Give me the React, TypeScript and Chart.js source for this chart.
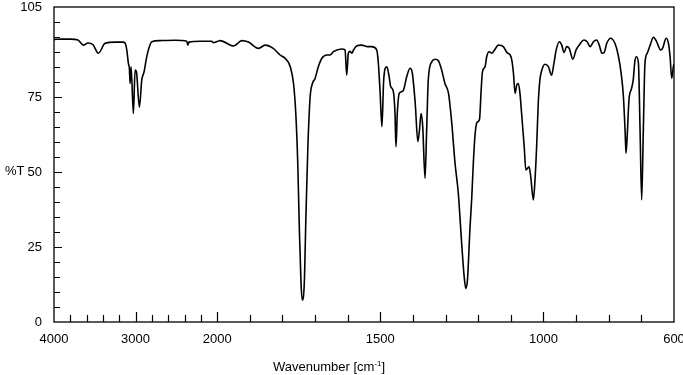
import React, { useEffect, useRef } from 'react';
import { Chart, registerables, LinearScale } from 'chart.js';

// ---- data ----
const wavenumbers = [
  4000, 3900, 3800, 3706, 3640, 3583, 3521, 3456, 3374, 3252,
  3153, 3129, 3108, 3088, 3076, 3067, 3055, 3027, 3006, 2990,
  2953, 2924, 2896, 2871, 2843, 2801, 2699, 2515, 2372, 2360,
  2344, 2209, 2065, 2049, 2000, 1991, 1950, 1924, 1904, 1873,
  1853, 1828, 1807, 1792, 1776, 1766, 1759, 1753, 1748, 1743,
  1739, 1733, 1728, 1722, 1715, 1708, 1700, 1690, 1679, 1664,
  1654, 1644, 1618, 1608, 1603, 1598, 1593, 1587, 1582, 1572,
  1557, 1541, 1526, 1511, 1506, 1501, 1495, 1490, 1485, 1480,
  1473, 1468, 1460, 1455, 1452, 1448, 1442, 1434, 1429, 1419,
  1409, 1402, 1393, 1385, 1380, 1375, 1370, 1363, 1358, 1353,
  1342, 1332, 1322, 1312, 1302, 1291, 1281, 1271, 1261, 1250,
  1243, 1238, 1233, 1225, 1220, 1215, 1210, 1204, 1196, 1191,
  1187, 1179, 1174, 1167, 1158, 1150, 1138, 1123, 1112, 1102,
  1097, 1092, 1087, 1082, 1077, 1072, 1067, 1059, 1054, 1049,
  1044, 1039, 1031, 1026, 1021, 1016, 1011, 1005, 995, 985,
  975, 968, 961, 951, 944, 937, 929, 921, 910, 900,
  888, 876, 866, 857, 847, 837, 829, 821, 814, 806,
  794, 781, 771, 762, 755, 750, 747, 743, 738, 730,
  725, 720, 715, 709, 704, 699, 694, 689, 682, 673,
  663, 653, 641, 635, 624, 617, 612, 607, 602, 600,
];

const transmittance = [
  94.2, 94.3, 94.3, 94.0, 92.3, 93.0, 92.4, 89.6, 92.9, 93.3,
  93.3, 93.0, 90.7, 86.2, 84.6, 79.5, 85.1, 69.5, 84.0, 83.5,
  71.6, 80.7, 83.4, 87.3, 90.7, 93.4, 93.8, 93.9, 93.6, 92.3,
  93.3, 93.6, 93.6, 93.1, 93.5, 93.8, 92.0, 93.8, 93.3, 91.2,
  92.3, 91.2, 89.0, 87.9, 85.1, 79.5, 69.5, 52.9, 30.7, 12.9,
  7.3, 12.9, 35.1, 58.4, 75.1, 79.5, 81.2, 85.1, 87.9, 89.0,
  89.0, 90.1, 91.0, 90.7, 82.3, 89.6, 90.2, 89.6, 90.7, 92.1,
  92.3, 91.8, 91.8, 90.7, 86.2, 77.3, 65.1, 80.0, 84.6, 85.1,
  81.8, 78.4, 76.8, 69.5, 58.4, 69.5, 76.2, 76.8, 77.3, 81.8,
  84.6, 83.0, 72.9, 60.1, 64.0, 69.5, 65.1, 47.9, 64.0, 80.7,
  86.8, 87.6, 87.1, 84.0, 79.5, 76.2, 66.2, 52.9, 42.9, 25.1,
  15.1, 11.2, 14.0, 31.8, 41.0, 52.9, 62.0, 66.5, 67.6, 77.3,
  83.4, 85.1, 88.4, 90.1, 89.6, 90.7, 92.3, 91.8, 89.8, 89.0,
  87.3, 82.9, 76.2, 79.0, 79.5, 76.2, 69.5, 58.4, 50.7, 51.2,
  51.7, 48.4, 40.7, 47.3, 58.4, 72.9, 80.7, 84.0, 85.9, 85.1,
  82.3, 86.2, 90.7, 93.4, 92.3, 89.8, 91.8, 91.2, 87.6, 90.7,
  92.7, 94.0, 93.4, 91.8, 93.4, 94.0, 92.3, 89.6, 89.8, 92.9,
  94.6, 92.9, 89.0, 82.9, 75.1, 64.0, 56.2, 62.9, 74.0, 77.9,
  80.7, 86.8, 88.4, 86.2, 64.0, 40.7, 64.0, 86.2, 89.6, 92.3,
  94.9, 93.4, 90.7, 91.2, 94.6, 92.9, 88.4, 81.2, 85.1, 86.0,
];

const xTickValues = [
  4000, 3800, 3600, 3400, 3200, 3000, 2800, 2600, 2400, 2200, 2000,
  1900, 1800, 1700, 1600, 1500, 1400, 1300, 1200, 1100, 1000, 900, 800, 700, 600,
];
const xLabelValues = [4000, 3000, 2000, 1500, 1000, 600];
const xMajorValues = [3000, 2000, 1500, 1000];

const yTickValues = [
  0, 5, 10, 15, 20, 25, 30, 35, 40, 45, 50, 55, 60, 65, 70, 75, 80, 85, 90, 95, 100, 105,
];
const yLabelValues = [0, 25, 50, 75, 105];
const yMajorValues = [25, 50, 75];

const yTitle = '%T';
const xTitleMain = 'Wavenumber [cm';
const xTitleSup = '-1';
const xTitleEnd = ']';

const FONT = '"Liberation Sans", Arial, Helvetica, sans-serif';

// IR charts: 4000-2000 compressed 4x relative to 2000-600
function warp(w: number) {
  return w >= 2000 ? (4000 - w) / 4 : 500 + (2000 - w);
}
function unwarp(u: number) {
  return u <= 500 ? 4000 - u * 4 : 2000 - (u - 500);
}

class IRScale extends (LinearScale as any) {
  static id = 'irscale';
  buildTicks() {
    return xTickValues.map((v) => ({ value: v }));
  }
  getPixelForValue(value: number) {
    if (value === null || value === undefined || isNaN(value)) return NaN;
    const a = warp(this.max);
    const b = warp(this.min);
    return this.getPixelForDecimal((warp(value) - a) / (b - a));
  }
  getValueForPixel(pixel: number) {
    const a = warp(this.max);
    const b = warp(this.min);
    return unwarp(a + this.getDecimalForPixel(pixel) * (b - a));
  }
}

Chart.register(...registerables, IRScale as any);

const decorPlugin = {
  id: 'irDecor',
  afterDraw(chart: any) {
    const { ctx, chartArea: a, scales } = chart;
    const xs = scales.x;
    const ys = scales.y;
    ctx.save();
    ctx.strokeStyle = '#000';
    ctx.lineWidth = 1.3;
    ctx.strokeRect(a.left, a.top, a.right - a.left, a.bottom - a.top);
    ctx.lineWidth = 1.2;
    ctx.beginPath();
    for (const v of xTickValues) {
      if (v === 4000 || v === 600) continue;
      const px = Math.round(xs.getPixelForValue(v)) + 0.5;
      const len = xMajorValues.includes(v) ? 10 : 7;
      ctx.moveTo(px, a.bottom);
      ctx.lineTo(px, a.bottom - len);
    }
    for (const v of yTickValues) {
      if (v === 0 || v === 105) continue;
      const py = Math.round(ys.getPixelForValue(v)) + 0.5;
      const len = yMajorValues.includes(v) ? 8 : 6;
      ctx.moveTo(a.left, py);
      ctx.lineTo(a.left + len, py);
    }
    ctx.stroke();

    ctx.fillStyle = '#000';
    ctx.textBaseline = 'alphabetic';
    ctx.textAlign = 'left';
    ctx.font = `13px ${FONT}`;
    ctx.fillText(yTitle, 5, 175);

    const w1 = ctx.measureText(xTitleMain).width;
    const w3 = ctx.measureText(xTitleEnd).width;
    ctx.font = `8px ${FONT}`;
    const w2 = ctx.measureText(xTitleSup).width;
    const total = w1 + w2 + w3;
    let x0 = 329 - total / 2;
    const base = 371;
    ctx.font = `13px ${FONT}`;
    ctx.fillText(xTitleMain, x0, base);
    x0 += w1;
    ctx.font = `8px ${FONT}`;
    ctx.fillText(xTitleSup, x0, base - 5);
    x0 += w2;
    ctx.font = `13px ${FONT}`;
    ctx.fillText(xTitleEnd, x0, base);
    ctx.restore();
  },
};

export default function App() {
  const ref = useRef<HTMLCanvasElement>(null);
  useEffect(() => {
    const points = wavenumbers.map((w, i) => ({ x: w, y: transmittance[i] }));
    const chart = new Chart(ref.current as HTMLCanvasElement, {
      type: 'line',
      data: {
        datasets: [
          {
            data: points,
            borderColor: '#000',
            borderWidth: 1.6,
            pointRadius: 0,
            fill: false,
            cubicInterpolationMode: 'monotone',
          },
        ],
      },
      options: {
        animation: false,
        responsive: false,
        devicePixelRatio: 1,
        events: [],
        layout: { padding: { top: 7, right: 9, left: 0, bottom: 0 } },
        plugins: { legend: { display: false }, tooltip: { enabled: false } },
        scales: {
          x: {
            type: 'irscale' as any,
            min: 600,
            max: 4000,
            grid: { display: false, drawTicks: false },
            border: { display: false },
            ticks: {
              autoSkip: false,
              maxRotation: 0,
              minRotation: 0,
              padding: 10,
              color: '#000',
              font: { family: FONT, size: 13 },
              callback: (v: any) => (xLabelValues.includes(Number(v)) ? String(v) : ''),
            },
            afterFit: (s: any) => {
              s.height = 53;
              s.paddingLeft = 0;
              s.paddingRight = 0;
            },
          },
          y: {
            type: 'linear',
            min: 0,
            max: 105,
            grid: { display: false, drawTicks: false },
            border: { display: false },
            afterBuildTicks: (s: any) => {
              s.ticks = yTickValues.map((v) => ({ value: v }));
            },
            ticks: {
              autoSkip: false,
              padding: 12,
              color: '#000',
              font: { family: FONT, size: 13 },
              callback: (v: any) => (yLabelValues.includes(Number(v)) ? String(v) : ''),
            },
            afterFit: (s: any) => {
              s.width = 54;
              s.paddingTop = 0;
              s.paddingBottom = 0;
            },
          },
        },
      } as any,
      plugins: [decorPlugin],
    });
    return () => chart.destroy();
  }, []);
  return (
    <div style={{ position: 'fixed', left: 0, top: 0, width: 683, height: 375, background: '#fff' }}>
      <canvas ref={ref} width={683} height={375} style={{ display: 'block' }} />
    </div>
  );
}
